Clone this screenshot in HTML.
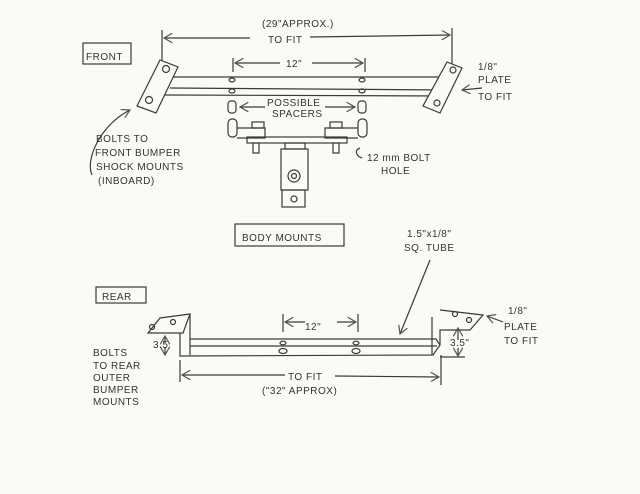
<!DOCTYPE html>
<html><head><meta charset="utf-8"><style>
html,body{margin:0;padding:0;background:#fafaf8;}
svg{display:block}
text{font-family:"Liberation Sans",sans-serif;font-size:10px;fill:#333;letter-spacing:0.5px}
</style></head><body>
<svg width="640" height="494" viewBox="0 0 640 494" xmlns="http://www.w3.org/2000/svg">
<defs><marker id="a" markerWidth="8" markerHeight="8" refX="7" refY="4" orient="auto"><path d="M0,0 L7,4 L0,8" fill="none" stroke="#555" stroke-width="1"/></marker></defs>
<rect width="640" height="494" fill="#fafaf8"/>
<g stroke="#3a3a3a" stroke-width="1.2" fill="none">
<rect x="83" y="43" width="48" height="21"/>
<line x1="162" y1="30" x2="162" y2="62"/><line x1="452" y1="28" x2="452" y2="72"/>
<line x1="250" y1="38" x2="164" y2="38" marker-end="url(#a)"/>
<line x1="310" y1="37" x2="450" y2="35" marker-end="url(#a)"/>
<line x1="233" y1="58" x2="233" y2="72"/><line x1="365" y1="58" x2="365" y2="72"/>
<line x1="280" y1="63" x2="235" y2="63" marker-end="url(#a)"/><line x1="312" y1="63" x2="363" y2="63" marker-end="url(#a)"/>
<path d="M170,77 L450,77 L450,88 M170,88 L447,90 M165,95 L445,96 L450,88"/>
<path d="M160,60 L178,67 L156,113 L137,106 Z" fill="#fafaf8"/>
<circle cx="166" cy="69" r="3.5"/><circle cx="149" cy="100" r="3.5"/>
<path d="M447,62 L462,68 L440,113 L423,106 Z" fill="#fafaf8"/>
<circle cx="453" cy="70" r="3"/><circle cx="437" cy="103" r="3"/>
<ellipse cx="232" cy="80" rx="3" ry="2"/><ellipse cx="362" cy="80" rx="3" ry="2"/>
<ellipse cx="232" cy="91" rx="3" ry="2"/><ellipse cx="362" cy="91" rx="3" ry="2"/>
<rect x="228" y="101" width="8" height="12" rx="3"/><rect x="358" y="101" width="8" height="12" rx="3"/>
<line x1="265" y1="107" x2="240" y2="107" marker-end="url(#a)"/><line x1="325" y1="107" x2="355" y2="107" marker-end="url(#a)"/>
<rect x="228" y="119" width="9" height="18" rx="4"/><rect x="358" y="119" width="9" height="18" rx="4"/>
<path d="M237,128 L265,128 L265,138 L237,138"/><rect x="252" y="122" width="12" height="6"/>
<path d="M358,128 L325,128 L325,138 L358,138"/><rect x="330" y="122" width="12" height="6"/>
<rect x="247" y="137" width="100" height="6"/>
<rect x="253" y="143" width="6" height="10"/><rect x="333" y="143" width="6" height="10"/>
<rect x="285" y="143" width="20" height="6"/>
<rect x="281" y="149" width="27" height="41"/>
<circle cx="294" cy="176" r="6"/><circle cx="294" cy="176" r="2.5"/>
<rect x="282" y="190" width="23" height="17"/><circle cx="294" cy="199" r="3"/>
<path d="M92,175 C85,160 100,125 130,110" marker-end="url(#a)"/>
<path d="M360,148 C354,150 356,156 362,158"/>
<line x1="482" y1="88" x2="462" y2="90" marker-end="url(#a)"/>
<rect x="235" y="224" width="109" height="22"/>
<rect x="96" y="287" width="50" height="16"/>
<line x1="430" y1="260" x2="400" y2="334" marker-end="url(#a)"/>
<path d="M148,333 L160,318 L190,314 L183,333 Z"/>
<circle cx="152" cy="327" r="2.5"/><circle cx="173" cy="322" r="2.5"/>
<path d="M190,314 L190,355 M180,333 L180,357"/>
<path d="M190,339 L436,339 L440,345 L433,355 L181,356 M190,346 L437,346"/>
<path d="M432,317 L432,355 M440,310 L483,315 L470,330 L440,330 L440,345"/>
<circle cx="455" cy="314" r="2.5"/><circle cx="469" cy="320" r="2.5"/>
<path d="M440,357 L465,357"/>
<line x1="165" y1="343" x2="165" y2="336" marker-end="url(#a)"/><line x1="165" y1="347" x2="165" y2="355" marker-end="url(#a)"/>
<line x1="458" y1="340" x2="458" y2="328" marker-end="url(#a)"/><line x1="458" y1="348" x2="458" y2="356" marker-end="url(#a)"/>
<ellipse cx="283" cy="343" rx="3" ry="1.8"/><ellipse cx="356" cy="343" rx="3" ry="1.8"/>
<ellipse cx="283" cy="351" rx="4" ry="2.5"/><ellipse cx="356" cy="351" rx="4" ry="2.5"/>
<line x1="283" y1="314" x2="283" y2="332"/><line x1="358" y1="314" x2="358" y2="332"/>
<line x1="305" y1="322" x2="285" y2="322" marker-end="url(#a)"/><line x1="337" y1="322" x2="356" y2="322" marker-end="url(#a)"/>
<line x1="180" y1="360" x2="180" y2="382"/><line x1="441" y1="355" x2="441" y2="385"/>
<line x1="285" y1="375" x2="182" y2="375" marker-end="url(#a)"/><line x1="335" y1="376" x2="439" y2="377" marker-end="url(#a)"/>
<line x1="503" y1="322" x2="487" y2="316" marker-end="url(#a)"/>
</g>
<text x="262" y="27">(29"APPROX.)</text>
<text x="268" y="43">TO FIT</text>
<text x="86" y="60" font-size="13">FRONT</text>
<text x="286" y="67" font-size="11">12"</text>
<text x="267" y="106" font-size="8">POSSIBLE</text>
<text x="272" y="117" font-size="8">SPACERS</text>
<text x="96" y="142" font-size="9">BOLTS TO</text>
<text x="95" y="156" font-size="9">FRONT BUMPER</text>
<text x="96" y="170" font-size="9">SHOCK MOUNTS</text>
<text x="98" y="184" font-size="9">(INBOARD)</text>
<text x="367" y="161" font-size="9">12 mm BOLT</text>
<text x="381" y="174" font-size="9">HOLE</text>
<text x="478" y="70" font-size="9">1/8"</text>
<text x="478" y="83" font-size="9">PLATE</text>
<text x="478" y="100" font-size="8">TO FIT</text>
<text x="242" y="241" font-size="12">BODY MOUNTS</text>
<text x="407" y="237" font-size="10">1.5"x1/8"</text>
<text x="404" y="251" font-size="10">SQ. TUBE</text>
<text x="102" y="300" font-size="12">REAR</text>
<text x="153" y="348" font-size="8">3.5</text>
<text x="450" y="346" font-size="8">3.5"</text>
<text x="305" y="330" font-size="10">12"</text>
<text x="93" y="356" font-size="9">BOLTS</text>
<text x="93" y="369" font-size="9">TO REAR</text>
<text x="93" y="381" font-size="9">OUTER</text>
<text x="93" y="393" font-size="9">BUMPER</text>
<text x="93" y="405" font-size="9">MOUNTS</text>
<text x="288" y="380" font-size="10">TO FIT</text>
<text x="262" y="394" font-size="10">("32" APPROX)</text>
<text x="508" y="314" font-size="10">1/8"</text>
<text x="504" y="330" font-size="9">PLATE</text>
<text x="504" y="344" font-size="9">TO FIT</text>
</svg>
</body></html>
